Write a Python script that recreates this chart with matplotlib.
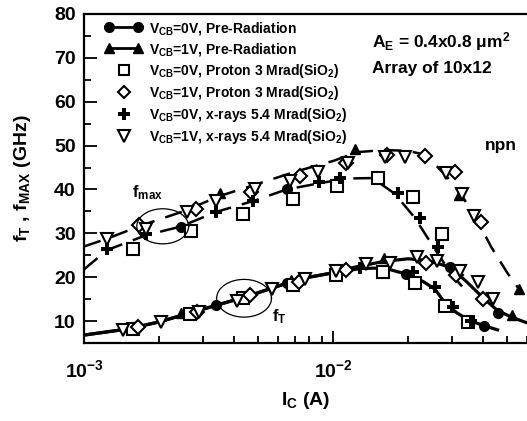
import numpy as np
import matplotlib
matplotlib.use("Agg")
import matplotlib.pyplot as plt
from matplotlib.lines import Line2D
from matplotlib.legend_handler import HandlerLine2D
from matplotlib.ticker import MultipleLocator

#===[ DATA ]===================================================================#
# curvas (linhas) - fT solido, fmax tracejado
IC_FT_0V = [1e-3, 1.5e-3, 2e-3, 2.5e-3, 3.4e-3, 4.5e-3, 6.5e-3, 8e-3, 1e-2, 1.3e-2,
            1.6e-2, 1.97e-2, 2.3e-2, 2.56e-2, 2.84e-2, 3.15e-2, 3.54e-2, 4e-2, 4.57e-2]
FT_0V = [6.8, 8.2, 9.8, 11.4, 13.6, 15.6, 18.6, 20.0, 21.0, 22.0,
         22.1, 20.7, 19.0, 17.3, 13.8, 11.8, 10.1, 9.0, 8.0]

IC_FT_1V = [1e-3, 1.5e-3, 2e-3, 2.5e-3, 3.4e-3, 4.5e-3, 6.5e-3, 8e-3, 1e-2, 1.2e-2,
            1.6e-2, 2e-2, 2.4e-2, 2.94e-2, 3.4e-2, 4e-2, 4.57e-2, 5.2e-2, 6e-2]
FT_1V = [6.8, 8.2, 9.8, 11.4, 13.6, 15.6, 18.6, 20.0, 21.0, 22.2,
         23.6, 24.2, 23.8, 22.3, 19.2, 15.3, 12.4, 10.9, 9.6]

IC_FMAX_0V = [1e-3, 1.24e-3, 1.78e-3, 2.43e-3, 3.4e-3, 4.8e-3, 6.5e-3, 8.6e-3, 1.13e-2,
              1.44e-2, 1.77e-2, 2.13e-2, 2.56e-2, 3e-2, 3.45e-2]
FMAX_0V = [21.8, 26.2, 29.6, 31.5, 34.9, 37.4, 40.0, 41.3, 42.5,
           42.6, 39.0, 33.5, 26.4, 20.5, 16.6]

IC_FMAX_1V = [1e-3, 1.24e-3, 1.7e-3, 2.5e-3, 3.5e-3, 5e-3, 7e-3, 1e-2, 1.25e-2, 1.6e-2,
              2e-2, 2.3e-2, 2.5e-2, 2.9e-2, 3.3e-2, 3.9e-2, 4.3e-2, 5e-2, 5.7e-2]
FMAX_1V = [27.0, 28.8, 31.8, 35.0, 38.5, 41.3, 44.0, 46.5, 48.5, 49.0,
           48.8, 48.0, 46.4, 42.5, 38.5, 31.6, 27.0, 21.0, 16.5]

# pontos medidos
IC_CIRC = [3.4e-3, 6.5e-3, 1.97e-2, 2.94e-2, 4.05e-2, 4.57e-2, 2.44e-3, 6.5e-3, 1.48e-2]
F_CIRC = [13.6, 18.7, 20.8, 22.4, 8.9, 11.8, 31.5, 40.1, 42.3]

IC_TRI = [2.45e-3, 6.8e-3, 1.6e-2, 5.2e-2, 3.5e-3, 1.22e-2, 3.2e-2, 5.57e-2]
F_TRI = [11.8, 19.3, 24.4, 11.4, 39.1, 49.3, 38.7, 17.3]

IC_SQ = [1.58e-3, 2.68e-3, 4.35e-3, 6.92e-3, 1.04e-2, 1.52e-2, 2.1e-2, 2.74e-2,
         1.58e-3, 2.66e-3, 4.36e-3, 6.92e-3, 1.03e-2, 1.58e-2, 2.13e-2, 2.8e-2, 3.47e-2]
F_SQ = [26.4, 30.5, 34.5, 37.9, 40.8, 42.5, 38.3, 29.8,
        8.3, 11.6, 15.2, 18.2, 20.5, 21.1, 18.7, 13.4, 9.9]

IC_DIA = [1.67e-3, 2.81e-3, 4.66e-3, 7.34e-3, 1.13e-2, 1.65e-2, 2.33e-2, 3.08e-2, 3.94e-2,
          1.64e-3, 2.83e-3, 4.63e-3, 7.3e-3, 1.13e-2, 2.36e-2, 3.1e-2, 4e-2]
F_DIA = [31.8, 35.5, 39.4, 43.0, 46.1, 47.8, 47.6, 43.9, 32.6,
         8.6, 12.0, 15.9, 18.8, 21.7, 23.2, 20.4, 15.1]

IC_PLUS = [1.24e-3, 1.78e-3, 3.4e-3, 4.78e-3, 8.8e-3, 1.07e-2, 1.82e-2, 2.23e-2, 2.63e-2,
           1.28e-2, 2.1e-2, 2.56e-2, 3.02e-2, 3.58e-2]
F_PLUS = [26.4, 29.8, 34.9, 37.3, 41.8, 42.6, 39.3, 33.6, 26.8,
          22.2, 21.1, 17.7, 13.1, 10.1]

IC_TRID = [1.24e-3, 1.77e-3, 2.6e-3, 3.4e-3, 4.85e-3, 6.7e-3, 8.7e-3, 1.15e-2, 1.62e-2,
           1.95e-2, 2.85e-2, 3.28e-2, 3.69e-2,
           1.43e-3, 2.04e-3, 2.89e-3, 4.1e-3, 5.68e-3, 7.7e-3, 1.03e-2, 1.36e-2, 1.69e-2,
           2.18e-2, 2.62e-2, 3.23e-2, 3.82e-2, 4.37e-2]
F_TRID = [28.8, 31.0, 34.8, 37.3, 40.0, 41.9, 43.9, 46.1, 47.5,
          47.3, 43.8, 39.0, 33.9,
          8.0, 9.8, 12.0, 14.5, 17.3, 19.5, 21.4, 23.0, 23.3,
          24.5, 23.7, 21.4, 18.8, 15.0]

LABELS = ["V$_{CB}$=0V, Pre-Radiation",
          "V$_{CB}$=1V, Pre-Radiation",
          "V$_{CB}$=0V, Proton 3 Mrad(SiO$_2$)",
          "V$_{CB}$=1V, Proton 3 Mrad(SiO$_2$)",
          "V$_{CB}$=0V, x-rays 5.4 Mrad(SiO$_2$)",
          "V$_{CB}$=1V, x-rays 5.4 Mrad(SiO$_2$)"]

# elipses (centro Ic, centro f, meia largura em decadas, meia altura)
ELIPSE_FMAX = (2.07e-3, 31.6, 0.104, 4.0)
ELIPSE_FT = (4.39e-3, 15.2, 0.110, 4.3)

#===[ ESTILO ]=================================================================#
plt.rcParams['font.family'] = ['Liberation Sans', 'DejaVu Sans']
plt.rcParams['font.weight'] = 'bold'
plt.rcParams['axes.labelweight'] = 'bold'
plt.rcParams['mathtext.fontset'] = 'custom'
plt.rcParams['mathtext.rm'] = 'Liberation Sans:bold'
plt.rcParams['mathtext.bf'] = 'Liberation Sans:bold'
plt.rcParams['mathtext.it'] = 'Liberation Sans:bold'
plt.rcParams['mathtext.default'] = 'bf'

fig = plt.figure(figsize=(5.27, 4.21), dpi=100)
ax = fig.add_axes([84/527, 78/421, 443/527, 329/421])

#===[ CURVAS ]=================================================================#
ax.plot(IC_FT_0V, FT_0V, color='black', lw=2.3)
ax.plot(IC_FT_1V, FT_1V, color='black', lw=2.3)
ax.plot(IC_FMAX_0V, FMAX_0V, color='black', lw=1.8, dashes=(7, 4.5))
ax.plot(IC_FMAX_1V, FMAX_1V, color='black', lw=1.8, dashes=(7, 4.5))

#===[ PONTOS ]=================================================================#
ax.plot(IC_CIRC, F_CIRC, 'o', color='black', ms=7, ls='none')
ax.plot(IC_TRI, F_TRI, '^', color='black', ms=7.5, ls='none')
ax.plot(IC_SQ, F_SQ, 's', mfc='white', mec='black', mew=1.5, ms=8, ls='none')
ax.plot(IC_DIA, F_DIA, 'D', mfc='white', mec='black', mew=1.5, ms=7, ls='none')
ax.plot(IC_PLUS, F_PLUS, 'P', color='black', ms=8, mew=0, ls='none')
ax.plot(IC_TRID, F_TRID, 'v', mfc='white', mec='black', mew=1.5, ms=8.5, ls='none')

# elipses desenhadas em escala log
t = np.linspace(0, 2 * np.pi, 200)
for xc, yc, a, b in (ELIPSE_FMAX, ELIPSE_FT):
    ax.plot(10 ** (np.log10(xc) + a * np.cos(t)), yc + b * np.sin(t), color='black', lw=0.9)

ax.text(1.8e-3, 39.3, "f$_{max}$", fontsize=12, ha='center', va='center')
ax.text(6.1e-3, 10.9, "f$_T$", fontsize=12, ha='center', va='center')
ax.text(0.65, 0.915, "A$_E$ = 0.4x0.8 μm$^2$", transform=ax.transAxes, fontsize=12.5, va='center')
ax.text(0.65, 0.835, "Array of 10x12", transform=ax.transAxes, fontsize=12.5, va='center')
ax.text(0.94, 0.6, "npn", transform=ax.transAxes, fontsize=12.5, ha='center', va='center')

#===[ EIXOS ]==================================================================#
ax.set_xscale('log')
ax.set_xlim(1e-3, 0.06)
ax.set_ylim(5, 80)
ax.yaxis.set_major_locator(MultipleLocator(10))
ax.yaxis.set_minor_locator(MultipleLocator(5))
ax.set_yticks(range(10, 90, 10))
ax.tick_params(which='both', direction='in', labelsize=14, width=1.3)
ax.tick_params(which='major', length=9)
ax.tick_params(which='minor', length=5)
ax.tick_params(axis='x', pad=12)
ax.tick_params(axis='y', pad=6)
for s in ax.spines.values():
    s.set_linewidth(1.6)
ax.spines['right'].set_visible(False)

ax.set_xlabel("I$_C$ (A)", fontsize=14, labelpad=6)
ax.set_ylabel("f$_T$ , f$_{MAX}$ (GHz)", fontsize=14, labelpad=15)

#===[ LEGENDA ]================================================================#
handles = [
    Line2D([], [], color='black', lw=2, marker='o', ms=7),
    Line2D([], [], color='black', lw=2, marker='^', ms=7.5),
    Line2D([], [], ls='none', marker='s', mfc='white', mec='black', mew=1.5, ms=7.5),
    Line2D([], [], ls='none', marker='D', mfc='white', mec='black', mew=1.5, ms=6.5),
    Line2D([], [], ls='none', marker='P', color='black', mew=0, ms=8),
    Line2D([], [], ls='none', marker='v', mfc='white', mec='black', mew=1.5, ms=8),
]
hmap = {h: HandlerLine2D(numpoints=1) for h in handles[2:]}
ax.legend(handles, LABELS, loc='upper left', bbox_to_anchor=(0.025, 1.012), frameon=False,
          fontsize=10, numpoints=2, handlelength=2.7, handletextpad=0.45,
          labelspacing=0.29, borderaxespad=0.3, handler_map=hmap)

plt.savefig("out.png", dpi=100)
plt.close()
